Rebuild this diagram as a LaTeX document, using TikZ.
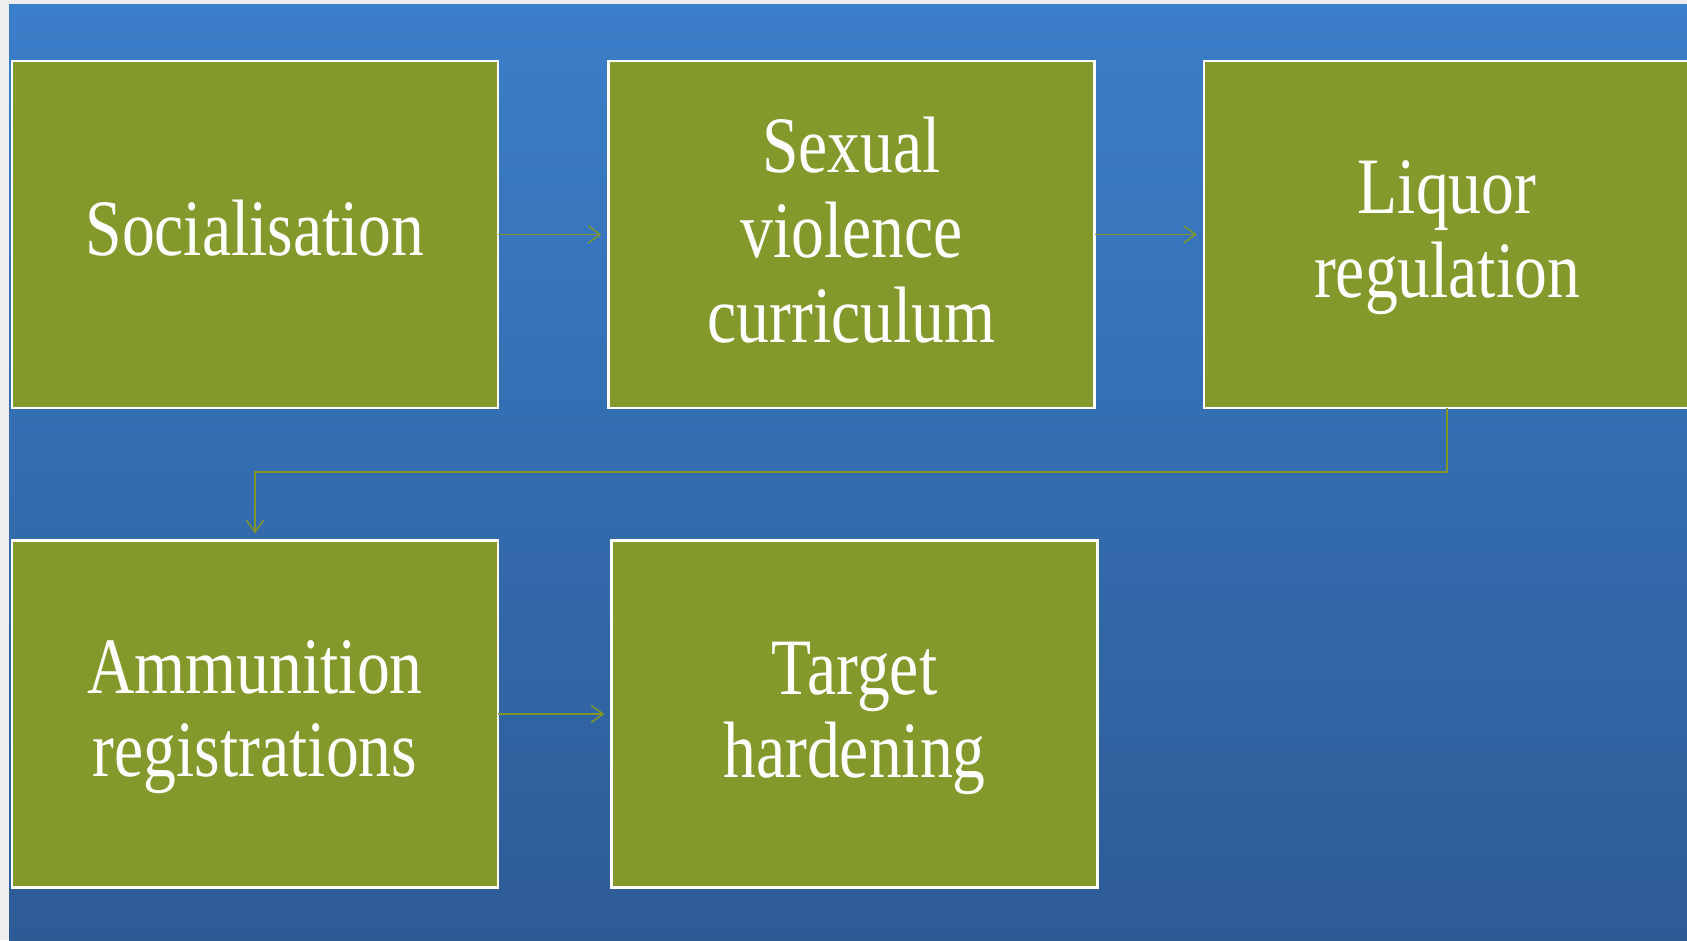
\documentclass[tikz,border=0pt]{standalone}
\usepackage{fontspec}
\setmainfont[FakeStretch=0.82]{Liberation Serif}
\usetikzlibrary{arrows.meta}
\definecolor{olivebox}{RGB}{132,153,43}
\definecolor{oliveline}{RGB}{128,150,45}
\definecolor{bgtop}{RGB}{59,126,201}
\definecolor{bgbot}{RGB}{45,91,150}
\definecolor{marginc}{RGB}{238,238,238}
\begin{document}
\begin{tikzpicture}[x=1pt,y=-1pt,
  box/.style={draw=white, line width=2.5pt, fill=olivebox, minimum width=486pt, minimum height=347pt, inner sep=0pt, outer sep=0pt},
  txt/.style={text=white, align=center, font=\fontsize{80}{83}\selectfont, inner sep=0pt, anchor=base},
  conn/.style={draw=oliveline, line width=1.5pt, -{Straight Barb[length=12pt,width=17pt,line width=1.5pt]}, shorten >=7pt}]
\useasboundingbox (0,0) rectangle (1687,940);
\clip (0,0) rectangle (1687,940);
\fill[marginc] (0,0) rectangle (1687,940);
\shade[top color=bgtop, bottom color=bgbot] (9,4) rectangle (1687,940);

\node[box] (b1) at (255,234.5) {};
\node[box] (b2) at (851.5,234.5) {};
\node[box] (b3) at (1447,234.5) {};
\node[box] (b4) at (255,714) {};
\node[box] (b5) at (854.5,714) {};

\node[txt] (t1) at (255,255) {Socialisation};
\node[txt, font=\fontsize{80}{85}\selectfont] (t2) at (851.5,342) {Sexual\\violence\\curriculum};
\node[txt, font=\fontsize{80}{84}\selectfont] (t3) at (1447,297) {Liquor\\regulation};
\node[txt] (t4) at (255,776) {Ammunition\\registrations};
\node[txt] (t5) at (854.5,777) {Target\\hardening};

\draw[conn] (b1.east) -- (b2.west);
\draw[conn] (b2.east) -- (b3.west);
\draw[conn] (b3.south) -- ++(0,64) -| (b4.north);
\draw[conn] (b4.east) -- (b5.west);
\end{tikzpicture}
\end{document}
